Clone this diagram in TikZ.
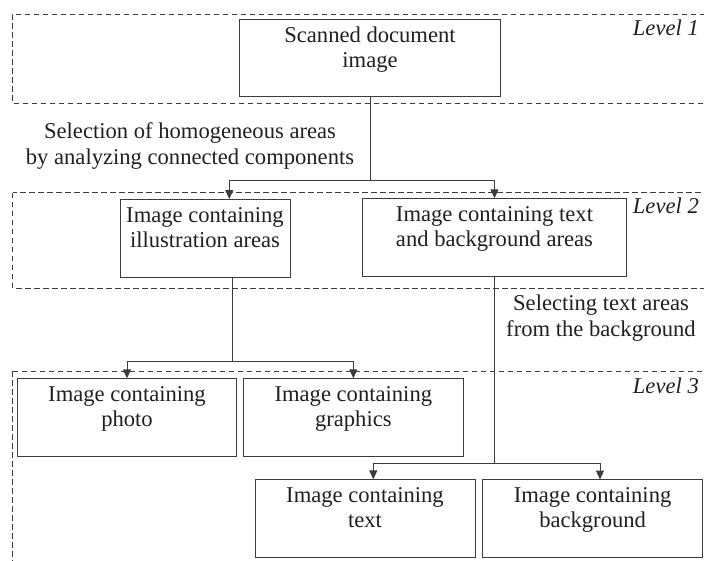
\documentclass[tikz,border=0pt]{standalone}
\usepackage{fontspec}
\setmainfont{Liberation Serif}
\usetikzlibrary{arrows.meta,calc}
\definecolor{ln}{HTML}{3C3C3C}
\definecolor{tx}{HTML}{231F20}
\newcommand\bxt[3]{\parbox[c][#1][t]{#2}{\centering\rule{0pt}{23pt}#3}}
\begin{document}
\begin{tikzpicture}[x=1pt,y=-1pt,
  frame/.style={draw=ln, line width=0.9pt, dash pattern=on 5.5pt off 3.5pt},
  box/.style={draw=ln, line width=1pt, fill=white, inner sep=0pt, outer sep=0pt,
    anchor=north west, font=\fontsize{22.6}{25}\selectfont, text=tx},
  lvl/.style={font=\fontsize{22.6}{25}\selectfont\itshape, text=tx, anchor=base east, inner sep=0pt},
  lbl/.style={font=\fontsize{22.6}{26}\selectfont, text=tx, anchor=base, inner sep=0pt},
  link/.style={draw=ln, line width=1pt},
  arr/.style={link, -{Triangle[length=9pt,width=8pt]}},
]
\useasboundingbox (0,0) rectangle (704,560);
\begin{scope}
\clip (0,0) rectangle (704,560);
\draw[frame] (12.7,14) rectangle (720,103);
\draw[frame] (12.7,192.7) rectangle (720,288.3);
\draw[frame] (12.7,371) rectangle (720,580);
\end{scope}

% level labels
\node[lvl] (lv1) at (699,35) {Level 1};
\node[lvl] (lv2) at (699,213.5) {Level 2};
\node[lvl] (lv3) at (699,393) {Level 3};

% boxes
\node[box] (s)  at (239.3,19)    {\bxt{77pt}{261.4pt}{Scanned document\\image}};
\node[box] (ill) at (120,199)    {\bxt{78.3pt}{170pt}{Image containing\\illustration areas}};
\node[box] (tb) at (362.5,198.3) {\bxt{78pt}{264pt}{Image containing text\\and background areas}};
\node[box] (ph) at (17.3,378.3)  {\bxt{78pt}{219.4pt}{Image containing\\photo}};
\node[box] (gr) at (243.7,378.3) {\bxt{78pt}{219.3pt}{Image containing\\graphics}};
\node[box] (tx) at (255,479.3)   {\bxt{78pt}{220pt}{Image containing\\text}};
\node[box] (bg) at (482.7,479.5) {\bxt{77.8pt}{219.8pt}{Image containing\\background}};

% connector labels
\node[lbl] (sel) at (190,138) {\begin{tabular}[t]{@{}c@{}}Selection of homogeneous areas\\by analyzing connected components\end{tabular}};
\node[lbl] (sta) at (601,310) {\begin{tabular}[t]{@{}c@{}}Selecting text areas\\from the background\end{tabular}};

% connectors
\coordinate (j1) at (370,180.7);
\draw[link] (s.south) -- (j1);
\draw[arr] (j1) -| ([xshift=24.3pt]ill.north);
\draw[arr] (j1) -| (tb.north);

\coordinate (j2) at (232,361);
\draw[link] ([xshift=27pt]ill.south) -- (j2);
\draw[arr] (j2) -| (ph.north);
\draw[arr] (j2) -| (gr.north);

\coordinate (j3) at (494.5,463.3);
\draw[link] (tb.south) -- (j3);
\draw[arr] (j3) -| ([xshift=8.3pt]tx.north);
\draw[arr] (j3) -| ([xshift=7.4pt]bg.north);
\end{tikzpicture}
\end{document}
